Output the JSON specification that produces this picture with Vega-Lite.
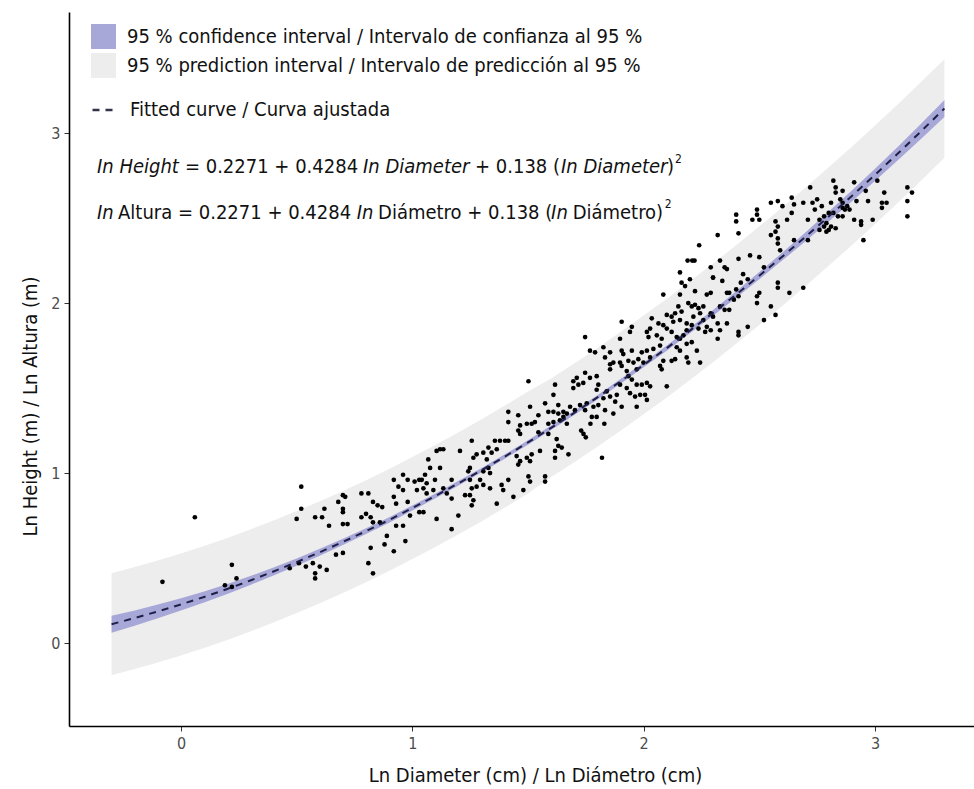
{
"$schema":"https://vega.github.io/schema/vega-lite/v6.json",
"width":905,"height":714,
"autosize":{"type":"none"},
"padding":{"left":69,"top":12,"right":0,"bottom":63},
"background":"white",
"config":{"view":{"stroke":null},"font":"DejaVu Sans Condensed, Roboto, sans-serif"},
"datasets":{
"one":[{}],
"curve":[
{"x":-0.3,"fit":0.111,"cil":0.061,"cih":0.161,"pil":-0.189,"pih":0.411},
{"x":-0.2,"fit":0.147,"cil":0.102,"cih":0.192,"pil":-0.153,"pih":0.447},
{"x":-0.1,"fit":0.186,"cil":0.146,"cih":0.226,"pil":-0.114,"pih":0.486},
{"x":0.0,"fit":0.227,"cil":0.191,"cih":0.263,"pil":-0.073,"pih":0.527},
{"x":0.1,"fit":0.271,"cil":0.239,"cih":0.303,"pil":-0.029,"pih":0.571},
{"x":0.2,"fit":0.318,"cil":0.289,"cih":0.347,"pil":0.018,"pih":0.618},
{"x":0.3,"fit":0.368,"cil":0.342,"cih":0.394,"pil":0.068,"pih":0.668},
{"x":0.4,"fit":0.421,"cil":0.397,"cih":0.445,"pil":0.121,"pih":0.721},
{"x":0.5,"fit":0.476,"cil":0.454,"cih":0.498,"pil":0.176,"pih":0.776},
{"x":0.6,"fit":0.534,"cil":0.514,"cih":0.554,"pil":0.234,"pih":0.834},
{"x":0.7,"fit":0.595,"cil":0.577,"cih":0.613,"pil":0.295,"pih":0.895},
{"x":0.8,"fit":0.658,"cil":0.641,"cih":0.675,"pil":0.358,"pih":0.958},
{"x":0.9,"fit":0.724,"cil":0.708,"cih":0.740,"pil":0.424,"pih":1.024},
{"x":1.0,"fit":0.794,"cil":0.779,"cih":0.809,"pil":0.494,"pih":1.094},
{"x":1.1,"fit":0.865,"cil":0.851,"cih":0.879,"pil":0.565,"pih":1.165},
{"x":1.2,"fit":0.940,"cil":0.926,"cih":0.954,"pil":0.640,"pih":1.240},
{"x":1.3,"fit":1.017,"cil":1.004,"cih":1.030,"pil":0.717,"pih":1.317},
{"x":1.4,"fit":1.097,"cil":1.084,"cih":1.110,"pil":0.797,"pih":1.397},
{"x":1.5,"fit":1.180,"cil":1.167,"cih":1.193,"pil":0.880,"pih":1.480},
{"x":1.6,"fit":1.266,"cil":1.253,"cih":1.279,"pil":0.976,"pih":1.556},
{"x":1.7,"fit":1.354,"cil":1.341,"cih":1.367,"pil":1.064,"pih":1.644},
{"x":1.8,"fit":1.445,"cil":1.432,"cih":1.458,"pil":1.155,"pih":1.735},
{"x":1.9,"fit":1.539,"cil":1.525,"cih":1.553,"pil":1.249,"pih":1.829},
{"x":2.0,"fit":1.636,"cil":1.622,"cih":1.650,"pil":1.346,"pih":1.926},
{"x":2.1,"fit":1.735,"cil":1.720,"cih":1.750,"pil":1.445,"pih":2.025},
{"x":2.2,"fit":1.838,"cil":1.822,"cih":1.854,"pil":1.548,"pih":2.128},
{"x":2.3,"fit":1.942,"cil":1.925,"cih":1.959,"pil":1.652,"pih":2.232},
{"x":2.4,"fit":2.050,"cil":2.031,"cih":2.069,"pil":1.760,"pih":2.340},
{"x":2.5,"fit":2.161,"cil":2.140,"cih":2.182,"pil":1.871,"pih":2.451},
{"x":2.6,"fit":2.274,"cil":2.251,"cih":2.297,"pil":1.984,"pih":2.564},
{"x":2.7,"fit":2.390,"cil":2.364,"cih":2.416,"pil":2.100,"pih":2.680},
{"x":2.8,"fit":2.509,"cil":2.480,"cih":2.538,"pil":2.219,"pih":2.799},
{"x":2.9,"fit":2.630,"cil":2.598,"cih":2.662,"pil":2.340,"pih":2.920},
{"x":3.0,"fit":2.754,"cil":2.718,"cih":2.790,"pil":2.464,"pih":3.044},
{"x":3.1,"fit":2.881,"cil":2.841,"cih":2.921,"pil":2.591,"pih":3.171},
{"x":3.2,"fit":3.011,"cil":2.966,"cih":3.056,"pil":2.721,"pih":3.301},
{"x":3.3,"fit":3.144,"cil":3.094,"cih":3.194,"pil":2.854,"pih":3.434}
],
"pts":[
{"d":0.06,"h":0.74},{"d":-0.08,"h":0.36},{"d":0.22,"h":0.46},{"d":0.24,"h":0.38},{"d":0.19,"h":0.34},{"d":0.22,"h":0.33},{"d":0.52,"h":0.92},{"d":0.52,"h":0.79},{"d":0.50,"h":0.73},
{"d":0.47,"h":0.44},{"d":0.51,"h":0.47},{"d":0.54,"h":0.45},{"d":0.57,"h":0.47},{"d":0.60,"h":0.45},{"d":0.63,"h":0.43},{"d":0.58,"h":0.41},{"d":0.58,"h":0.38},
{"d":0.58,"h":0.74},{"d":0.61,"h":0.74},{"d":0.62,"h":0.79},{"d":0.64,"h":0.69},{"d":0.67,"h":0.52},{"d":0.70,"h":0.53},
{"d":0.68,"h":0.83},{"d":0.70,"h":0.87},{"d":0.71,"h":0.86},{"d":0.70,"h":0.79},{"d":0.70,"h":0.77},{"d":0.70,"h":0.70},{"d":0.72,"h":0.70},
{"d":0.78,"h":0.88},{"d":0.81,"h":0.88},{"d":0.83,"h":0.83},{"d":0.85,"h":0.81},{"d":0.87,"h":0.80},{"d":0.78,"h":0.74},{"d":0.80,"h":0.76},{"d":0.82,"h":0.74},{"d":0.83,"h":0.71},{"d":0.86,"h":0.71},
{"d":0.82,"h":0.56},{"d":0.88,"h":0.58},{"d":0.92,"h":0.54},{"d":0.81,"h":0.47},{"d":0.83,"h":0.41},{"d":0.89,"h":0.63},{"d":0.97,"h":0.60},
{"d":0.92,"h":0.96},{"d":0.94,"h":0.92},{"d":0.96,"h":0.99},{"d":0.98,"h":0.96},{"d":0.92,"h":0.86},{"d":0.93,"h":0.82},{"d":0.96,"h":0.90},{"d":0.98,"h":0.83},{"d":0.93,"h":0.69},{"d":0.96,"h":0.69},{"d":0.99,"h":0.75},
{"d":1.01,"h":0.95},{"d":1.03,"h":0.96},{"d":1.02,"h":0.90},{"d":1.03,"h":0.77},
{"d":1.502,"h":1.54},{"d":1.617,"h":1.52},{"d":1.610,"h":1.46},{"d":1.415,"h":1.36},{"d":1.415,"h":1.30},{"d":1.458,"h":1.34},{"d":1.509,"h":1.39},{"d":1.574,"h":1.41},{"d":1.631,"h":1.40},{"d":1.588,"h":1.36},{"d":1.610,"h":1.36},{"d":1.631,"h":1.35},{"d":1.653,"h":1.36},{"d":1.638,"h":1.31},{"d":1.610,"h":1.30},{"d":1.588,"h":1.29},{"d":1.668,"h":1.29},{"d":1.545,"h":1.34},{"d":1.516,"h":1.29},{"d":1.530,"h":1.30},{"d":1.495,"h":1.29},{"d":1.466,"h":1.28},{"d":1.458,"h":1.25},{"d":1.466,"h":1.23},{"d":1.545,"h":1.24},{"d":1.588,"h":1.23},{"d":1.624,"h":1.20},{"d":1.631,"h":1.16},{"d":1.617,"h":1.13},{"d":1.617,"h":1.09},{"d":1.646,"h":1.15},{"d":1.675,"h":1.11},{"d":1.552,"h":1.13},{"d":1.516,"h":1.11},{"d":1.495,"h":1.09},{"d":1.466,"h":1.07},{"d":1.451,"h":1.10},{"d":1.458,"h":1.05},{"d":1.509,"h":1.07},{"d":1.502,"h":0.98},{"d":1.509,"h":0.95},{"d":1.574,"h":0.98},{"d":1.574,"h":0.95},{"d":1.480,"h":0.90},{"d":1.437,"h":0.86},{"d":1.415,"h":0.96},{"d":1.386,"h":0.93},{"d":1.393,"h":0.90},{"d":1.343,"h":1.12},{"d":1.357,"h":1.19},{"d":1.379,"h":1.19},{"d":1.401,"h":1.19},{"d":1.415,"h":1.19},{"d":1.329,"h":1.15},{"d":1.365,"h":1.14},{"d":1.307,"h":1.12},{"d":1.278,"h":1.11},{"d":1.264,"h":1.09},{"d":1.257,"h":1.19},{"d":1.206,"h":1.13},{"d":1.322,"h":1.08},{"d":1.329,"h":1.03},{"d":1.307,"h":1.01},{"d":1.336,"h":1.00},{"d":1.336,"h":0.91},{"d":1.293,"h":0.96},{"d":1.307,"h":0.93},{"d":1.278,"h":0.92},{"d":1.257,"h":0.91},{"d":1.249,"h":0.96},{"d":1.249,"h":1.03},{"d":1.242,"h":1.01},{"d":1.264,"h":0.84},{"d":1.228,"h":0.87},{"d":1.249,"h":0.87},{"d":1.170,"h":0.96},{"d":1.134,"h":0.91},{"d":1.120,"h":1.03},{"d":1.105,"h":1.13},{"d":1.120,"h":1.14},{"d":1.134,"h":1.14},{"d":1.069,"h":1.08},{"d":1.077,"h":1.03},{"d":1.055,"h":0.99},{"d":1.041,"h":0.96},{"d":1.062,"h":0.94},{"d":1.098,"h":0.96},{"d":1.048,"h":0.91},{"d":1.062,"h":0.88},{"d":1.091,"h":0.90},{"d":1.170,"h":0.85},{"d":1.149,"h":0.88},{"d":1.257,"h":0.81},{"d":1.365,"h":0.82},{"d":1.199,"h":0.75},{"d":1.105,"h":0.73},{"d":1.170,"h":0.67},{"d":1.048,"h":0.77},
{"d":1.73,"h":1.25},{"d":1.74,"h":1.23},{"d":1.75,"h":1.21},{"d":1.77,"h":1.29},{"d":1.83,"h":1.29},{"d":2.29,"h":1.94},{"d":2.30,"h":1.92},{"d":2.33,"h":1.98},{"d":2.35,"h":1.96},{"d":2.32,"h":1.88},{"d":2.33,"h":1.84},{"d":2.29,"h":1.84},{"d":2.32,"h":1.79},{"d":2.36,"h":1.88},{"d":2.37,"h":1.96},{"d":2.39,"h":2.02},{"d":2.41,"h":2.04},{"d":2.41,"h":1.81},{"d":2.19,"h":2.25},{"d":2.22,"h":2.25},{"d":2.29,"h":2.21},{"d":2.33,"h":2.25},{"d":2.36,"h":2.20},{"d":2.30,"h":2.15},{"d":2.34,"h":2.13},{"d":2.36,"h":2.06},{"d":2.29,"h":2.06},{"d":1.82,"h":1.09},
{"d":2.157,"h":2.18},{"d":2.164,"h":2.12},{"d":2.179,"h":2.10},{"d":2.200,"h":2.14},{"d":2.222,"h":2.07},{"d":2.273,"h":2.05},{"d":2.085,"h":2.05},{"d":2.157,"h":2.05},{"d":2.193,"h":2.00},{"d":2.208,"h":1.98},{"d":2.222,"h":1.99},{"d":2.237,"h":1.97},{"d":2.258,"h":1.98},{"d":2.150,"h":1.98},{"d":2.164,"h":1.95},{"d":2.136,"h":1.94},{"d":2.121,"h":1.92},{"d":2.100,"h":1.93},{"d":2.128,"h":1.89},{"d":2.157,"h":1.90},{"d":2.186,"h":1.88},{"d":2.215,"h":1.92},{"d":2.244,"h":1.94},{"d":2.258,"h":1.90},{"d":2.273,"h":1.86},{"d":2.266,"h":1.83},{"d":2.237,"h":1.85},{"d":2.208,"h":1.87},{"d":2.186,"h":1.84},{"d":2.172,"h":1.81},{"d":2.143,"h":1.80},{"d":2.121,"h":1.83},{"d":2.100,"h":1.85},{"d":2.085,"h":1.87},{"d":2.064,"h":1.88},{"d":2.035,"h":1.91},{"d":2.028,"h":1.85},{"d":2.014,"h":1.83},{"d":2.021,"h":1.80},{"d":2.057,"h":1.81},{"d":2.078,"h":1.79},{"d":2.071,"h":1.75},{"d":2.042,"h":1.73},{"d":2.014,"h":1.72},{"d":1.992,"h":1.71},{"d":2.028,"h":1.68},{"d":1.999,"h":1.65},{"d":1.977,"h":1.67},{"d":1.949,"h":1.72},{"d":1.941,"h":1.83},{"d":1.949,"h":1.86},{"d":1.905,"h":1.89},{"d":1.898,"h":1.79},{"d":1.905,"h":1.72},{"d":1.912,"h":1.70},{"d":1.898,"h":1.65},{"d":1.905,"h":1.63},{"d":1.934,"h":1.66},{"d":1.956,"h":1.65},{"d":1.970,"h":1.61},{"d":1.927,"h":1.60},{"d":1.934,"h":1.57},{"d":1.949,"h":1.55},{"d":1.970,"h":1.52},{"d":1.992,"h":1.52},{"d":2.014,"h":1.53},{"d":2.028,"h":1.51},{"d":2.006,"h":1.46},{"d":2.014,"h":1.43},{"d":1.985,"h":1.46},{"d":1.963,"h":1.45},{"d":1.941,"h":1.47},{"d":1.927,"h":1.50},{"d":1.898,"h":1.52},{"d":1.884,"h":1.46},{"d":1.877,"h":1.42},{"d":1.855,"h":1.45},{"d":1.840,"h":1.48},{"d":1.826,"h":1.44},{"d":1.804,"h":1.40},{"d":1.783,"h":1.39},{"d":1.754,"h":1.41},{"d":1.725,"h":1.40},{"d":1.703,"h":1.37},{"d":1.682,"h":1.39},{"d":1.668,"h":1.35},{"d":1.653,"h":1.33},{"d":1.747,"h":1.37},{"d":1.776,"h":1.33},{"d":1.797,"h":1.33},{"d":1.833,"h":1.37},{"d":1.869,"h":1.35},{"d":1.905,"h":1.39},{"d":1.970,"h":1.39},{"d":1.696,"h":1.50},{"d":1.718,"h":1.52},{"d":1.739,"h":1.53},{"d":1.747,"h":1.59},{"d":1.711,"h":1.56},{"d":1.696,"h":1.54},{"d":1.768,"h":1.56},{"d":1.797,"h":1.57},{"d":1.804,"h":1.52},{"d":1.797,"h":1.49},{"d":1.855,"h":1.64},{"d":1.855,"h":1.61},{"d":1.869,"h":1.65},{"d":1.826,"h":1.74},{"d":1.790,"h":1.71},{"d":1.768,"h":1.72},{"d":1.855,"h":1.71},{"d":1.833,"h":1.68},{"d":1.747,"h":1.80},{"d":2.071,"h":1.63},{"d":2.078,"h":1.61},{"d":2.085,"h":1.66},{"d":2.100,"h":1.51},{"d":2.121,"h":1.66},{"d":2.143,"h":1.74},{"d":2.157,"h":1.72},{"d":2.186,"h":1.76},{"d":2.208,"h":1.77},{"d":2.230,"h":1.72},{"d":2.186,"h":1.68},{"d":2.193,"h":1.65},{"d":2.244,"h":1.65},{"d":2.136,"h":1.67},{"d":2.157,"h":1.79},
{"d":2.21,"h":2.25},{"d":2.24,"h":2.34},{"d":2.30,"h":2.15},{"d":2.35,"h":2.21},{"d":2.32,"h":2.40},{"d":2.40,"h":2.52},{"d":2.40,"h":2.48},{"d":2.41,"h":2.41},{"d":2.41,"h":2.26},{"d":2.43,"h":2.17},{"d":2.45,"h":2.14},{"d":2.46,"h":2.28},{"d":2.49,"h":2.55},{"d":2.49,"h":2.52},{"d":2.50,"h":2.49},{"d":2.47,"h":2.49},{"d":2.50,"h":2.27},{"d":2.52,"h":2.21},{"d":2.55,"h":2.59},{"d":2.58,"h":2.60},{"d":2.57,"h":2.48},{"d":2.58,"h":2.45},{"d":2.57,"h":2.42},{"d":2.55,"h":2.40},{"d":2.58,"h":2.35},{"d":2.58,"h":2.38},{"d":2.59,"h":2.31},{"d":2.60,"h":2.57},{"d":2.62,"h":2.49},{"d":2.64,"h":2.62},{"d":2.65,"h":2.58},{"d":2.64,"h":2.53},{"d":2.65,"h":2.37},{"d":2.63,"h":2.06},{"d":2.58,"h":2.12},{"d":2.58,"h":2.09},{"d":2.69,"h":2.09},
{"d":2.69,"h":2.59},{"d":2.71,"h":2.49},{"d":2.71,"h":2.37},{"d":2.72,"h":2.68},{"d":2.73,"h":2.59},{"d":2.74,"h":2.55},{"d":2.75,"h":2.61},{"d":2.76,"h":2.49},{"d":2.77,"h":2.57},{"d":2.78,"h":2.51},{"d":2.78,"h":2.45},{"d":2.80,"h":2.43},{"d":2.76,"h":2.43},{"d":2.79,"h":2.47},{"d":2.80,"h":2.53},{"d":2.81,"h":2.59},{"d":2.82,"h":2.72},{"d":2.83,"h":2.68},{"d":2.83,"h":2.65},{"d":2.85,"h":2.61},{"d":2.86,"h":2.59},{"d":2.87,"h":2.55},{"d":2.82,"h":2.53},{"d":2.84,"h":2.51},{"d":2.86,"h":2.56},{"d":2.88,"h":2.57},{"d":2.89,"h":2.55},{"d":2.86,"h":2.51},{"d":2.86,"h":2.66},{"d":2.83,"h":2.44},{"d":2.81,"h":2.45},{"d":2.79,"h":2.42},
{"d":2.91,"h":2.71},{"d":2.91,"h":2.49},{"d":2.94,"h":2.48},{"d":2.94,"h":2.46},{"d":2.95,"h":2.37},{"d":2.92,"h":2.60},{"d":2.96,"h":2.66},{"d":2.97,"h":2.60},{"d":2.99,"h":2.49},{"d":3.01,"h":2.72},{"d":3.04,"h":2.65},{"d":3.03,"h":2.59},{"d":3.03,"h":2.56},{"d":3.05,"h":2.59},{"d":3.14,"h":2.68},{"d":3.14,"h":2.60},{"d":3.14,"h":2.51},{"d":3.16,"h":2.65},
{"d":2.49,"h":2.04},{"d":2.50,"h":2.06},{"d":2.49,"h":2.00},{"d":2.45,"h":1.86},{"d":2.41,"h":1.83},{"d":2.52,"h":1.90},{"d":2.57,"h":1.93},{"d":2.55,"h":1.98},{"d":2.42,"h":2.12},{"d":2.37,"h":2.06},{"d":2.40,"h":2.08}
]
},
"layer":[
{"data":{"name":"curve"},"mark":{"type":"area","opacity":1},
 "encoding":{
  "x":{"field":"x","type":"quantitative","scale":{"domain":[-0.484,3.428],"nice":false,"zero":false},
   "axis":{"title":"Ln Diameter (cm) / Ln Diámetro (cm)","values":[0,1,2,3],"format":"d","grid":false,"domainColor":"#000","domainWidth":1.6,"tickColor":"#333","tickSize":5,"labelFontSize":16,"labelColor":"#4d4d4d","labelPadding":4,"titleFontSize":20,"titleFontWeight":"normal","titleColor":"#111","titleX":466,"titleY":49,"titleBaseline":"middle","titleAlign":"center"}},
  "y":{"field":"pil","type":"quantitative","scale":{"domain":[-0.488,3.712],"nice":false,"zero":false},
   "axis":{"title":"Ln Height (m) / Ln Altura (m)","values":[0,1,2,3],"format":"d","grid":false,"domainColor":"#000","domainWidth":1.6,"tickColor":"#333","tickSize":5,"labelFontSize":16,"labelColor":"#4d4d4d","labelPadding":4,"titleFontSize":20,"titleFontWeight":"normal","titleColor":"#111","titleX":-39,"titleY":394,"titleAngle":-90,"titleBaseline":"middle","titleAlign":"center"}},
  "y2":{"field":"pih"},
  "fill":{"datum":"95 % prediction interval / Intervalo de predicción al 95 %","type":"nominal",
   "scale":{"domain":["95 % confidence interval / Intervalo de confianza al 95 %","95 % prediction interval / Intervalo de predicción al 95 %"],"range":["#a8a8d8","#ededed"]},
   "legend":{"orient":"none","legendX":22,"legendY":12,"title":null,"symbolType":"square","symbolSize":625,"symbolStrokeWidth":0,"symbolOpacity":1,"labelFontSize":20,"labelColor":"#111","labelOffset":11,"rowPadding":4,"labelLimit":800}}
 }},
{"data":{"name":"curve"},"mark":{"type":"area","opacity":1},
 "encoding":{"x":{"field":"x","type":"quantitative"},"y":{"field":"cil","type":"quantitative"},"y2":{"field":"cih"},
  "fill":{"datum":"95 % confidence interval / Intervalo de confianza al 95 %","type":"nominal"}}},
{"data":{"name":"pts"},"mark":{"type":"circle","size":22,"color":"#000","opacity":1},
 "encoding":{"x":{"field":"d","type":"quantitative"},"y":{"field":"h","type":"quantitative"}}},
{"data":{"name":"curve"},"mark":{"type":"line","color":"#1f1f48","strokeWidth":2},
 "encoding":{"x":{"field":"x","type":"quantitative"},"y":{"field":"fit","type":"quantitative"},
  "strokeDash":{"datum":"Fitted curve / Curva ajustada","type":"nominal","scale":{"range":[[7,6]]},
   "legend":{"orient":"none","legendX":22,"legendY":84,"title":null,"symbolType":"stroke","symbolSize":625,"symbolStrokeColor":"#33334a","symbolStrokeWidth":2.5,"labelFontSize":20,"labelColor":"#111","labelOffset":11,"labelLimit":800}}}},
{"data":{"name":"one"},"mark":{"type":"text","align":"left","baseline":"middle","fontStyle":"italic","fontSize":20,"color":"#111"},"encoding":{"x":{"datum":-0.363},"y":{"datum":2.80},"text":{"value":"In Height"}}},
{"data":{"name":"one"},"mark":{"type":"text","align":"left","baseline":"middle","fontSize":20,"color":"#111"},"encoding":{"x":{"datum":0.017},"y":{"datum":2.80},"text":{"value":"= 0.2271 + 0.4284"}}},
{"data":{"name":"one"},"mark":{"type":"text","align":"left","baseline":"middle","fontStyle":"italic","fontSize":20,"color":"#111"},"encoding":{"x":{"datum":0.787},"y":{"datum":2.80},"text":{"value":"In Diameter"}}},
{"data":{"name":"one"},"mark":{"type":"text","align":"left","baseline":"middle","fontSize":20,"color":"#111"},"encoding":{"x":{"datum":1.271},"y":{"datum":2.80},"text":{"value":"+ 0.138 ("}}},
{"data":{"name":"one"},"mark":{"type":"text","align":"left","baseline":"middle","fontStyle":"italic","fontSize":20,"color":"#111"},"encoding":{"x":{"datum":1.643},"y":{"datum":2.80},"text":{"value":"In Diameter"}}},
{"data":{"name":"one"},"mark":{"type":"text","align":"left","baseline":"middle","fontSize":20,"color":"#111"},"encoding":{"x":{"datum":2.101},"y":{"datum":2.80},"text":{"value":")"}}},
{"data":{"name":"one"},"mark":{"type":"text","align":"left","baseline":"middle","fontSize":12,"color":"#111"},"encoding":{"x":{"datum":2.136},"y":{"datum":2.85},"text":{"value":"2"}}},
{"data":{"name":"one"},"mark":{"type":"text","align":"left","baseline":"middle","fontStyle":"italic","fontSize":20,"color":"#111"},"encoding":{"x":{"datum":-0.363},"y":{"datum":2.53},"text":{"value":"In"}}},
{"data":{"name":"one"},"mark":{"type":"text","align":"left","baseline":"middle","fontSize":20,"color":"#111"},"encoding":{"x":{"datum":-0.272},"y":{"datum":2.53},"text":{"value":"Altura = 0.2271 + 0.4284"}}},
{"data":{"name":"one"},"mark":{"type":"text","align":"left","baseline":"middle","fontStyle":"italic","fontSize":20,"color":"#111"},"encoding":{"x":{"datum":0.760},"y":{"datum":2.53},"text":{"value":"In"}}},
{"data":{"name":"one"},"mark":{"type":"text","align":"left","baseline":"middle","fontSize":20,"color":"#111"},"encoding":{"x":{"datum":0.852},"y":{"datum":2.53},"text":{"value":"Diámetro + 0.138 ("}}},
{"data":{"name":"one"},"mark":{"type":"text","align":"left","baseline":"middle","fontStyle":"italic","fontSize":20,"color":"#111"},"encoding":{"x":{"datum":1.600},"y":{"datum":2.53},"text":{"value":"In"}}},
{"data":{"name":"one"},"mark":{"type":"text","align":"left","baseline":"middle","fontSize":20,"color":"#111"},"encoding":{"x":{"datum":1.693},"y":{"datum":2.53},"text":{"value":"Diámetro)"}}},
{"data":{"name":"one"},"mark":{"type":"text","align":"left","baseline":"middle","fontSize":12,"color":"#111"},"encoding":{"x":{"datum":2.091},"y":{"datum":2.58},"text":{"value":"2"}}}
]
}
